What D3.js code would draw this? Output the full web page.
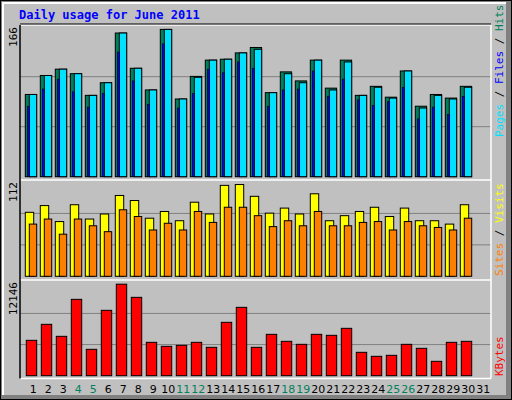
<!DOCTYPE html>
<html><head><meta charset="utf-8">
<script src="https://cdn.jsdelivr.net/npm/d3@7"></script>
<style>body{margin:0;background:#fff}</style>
</head><body>
<svg id="chart" width="512" height="400"></svg>
<script>
const days = d3.range(1, 32);
const weekends = [4, 5, 11, 12, 18, 19, 25, 26];
const hits  = [91,112,119,114,90,104,159,120,96,163,86,111,129,130,137,143,93,116,106,129,98,129,90,100,88,117,78,91,87,100];
const pages = [91,112,119,114,90,104,159,120,96,163,86,110,129,130,137,141,93,114,104,129,96,127,90,99,87,117,76,90,86,99];
const files = [78,97,108,94,77,92,138,106,80,147,76,92,119,115,127,120,78,96,97,117,89,108,85,79,83,99,64,77,69,89];
const visits = [76,84,65,85,68,74,96,90,69,77,66,88,74,108,109,95,75,81,74,98,66,72,77,82,71,81,66,66,62,85];
const sites  = [62,68,50,68,60,53,79,71,55,63,55,77,64,82,82,72,59,66,60,77,60,60,64,65,55,65,60,58,55,69];
const kbytes = [4600,6680,5120,9930,3430,8500,11900,10190,4340,3820,3950,4340,3690,6940,8890,3690,5380,4470,4080,5380,5250,6160,3040,2520,2650,4080,3560,1870,4340,4470];
const maxTicks = { top: 166, mid: 112, bot: 12146 };

const svg = d3.select('#chart');
svg.append('rect').attr('width', 512).attr('height', 400).attr('fill', '#000');
svg.append('rect').attr('x', 1).attr('y', 1).attr('width', 510).attr('height', 398).attr('fill', '#808080');
svg.append('rect').attr('x', 2).attr('y', 2).attr('width', 504).attr('height', 393).attr('fill', '#fff');
svg.append('rect').attr('x', 4).attr('y', 4).attr('width', 502).attr('height', 391).attr('fill', '#c0c0c0');

svg.append('text').attr('x', 19).attr('y', 19)
  .attr('font-family', 'DejaVu Sans Mono, monospace').attr('font-size', 12).attr('font-weight', 'bold')
  .attr('fill', '#0000ff').text('Daily usage for June 2011');

const x = d3.scaleLinear().domain([1, 2]).range([25.3, 40.3]);
const left = 20, right = 491;

const panels = [
  { top: 25, bottom: 178, y: d3.scaleLinear().domain([0, maxTicks.top]).range([176.7, 26.7]), max: maxTicks.top },
  { top: 180, bottom: 279, y: d3.scaleLinear().domain([0, maxTicks.mid]).range([276.3, 182]), max: maxTicks.mid },
  { top: 280, bottom: 378, y: d3.scaleLinear().domain([0, maxTicks.bot]).range([375.7, 282.3]), max: maxTicks.bot }
];

panels.forEach(p => {
  [1 / 3, 2 / 3].forEach(f => {
    svg.append('line').attr('x1', left).attr('x2', right)
      .attr('y1', p.y(p.max * f)).attr('y2', p.y(p.max * f))
      .attr('stroke', '#808080').attr('stroke-width', 1);
  });
  svg.append('text')
    .attr('transform', `translate(${17},${p.top + 2}) rotate(-90)`)
    .attr('text-anchor', 'end')
    .attr('font-family', 'DejaVu Sans Mono, monospace').attr('font-size', 11)
    .attr('fill', '#000').text(p.max);
});

function bars(data, panel, dx, w, fill, sw) {
  svg.append('g').selectAll('rect').data(data).join('rect')
    .attr('x', (d, i) => x(i + 1) + dx)
    .attr('y', d => panel.y(d))
    .attr('width', w)
    .attr('height', d => panel.y(0) - panel.y(d))
    .attr('fill', fill).attr('stroke', '#000').attr('stroke-width', sw);
}
bars(hits, panels[0], 0, 11.3, '#00805c', 1);
bars(pages, panels[0], 4, 7.4, '#00e0ff', 1);
bars(files, panels[0], 2, 2, '#0000ff', 0.6);
bars(visits, panels[1], 0, 8.4, '#ffff00', 1);
bars(sites, panels[1], 4, 7.4, '#ff8000', 1);
bars(kbytes, panels[2], 1, 10.4, '#ff0000', 1);

// panel frames
panels.forEach(p => {
  svg.append('line').attr('x1', left).attr('x2', right).attr('y1', p.top).attr('y2', p.top).attr('stroke', '#fff').attr('stroke-width', 1.5);
});
svg.append('line').attr('x1', left).attr('x2', right).attr('y1', 378.5).attr('y2', 378.5).attr('stroke', '#fff').attr('stroke-width', 1.5);
svg.append('line').attr('x1', right).attr('x2', right).attr('y1', 25).attr('y2', 378.5).attr('stroke', '#fff').attr('stroke-width', 1.5);
svg.append('line').attr('x1', left).attr('x2', left).attr('y1', 25).attr('y2', 378.5).attr('stroke', '#000').attr('stroke-width', 1.5);
svg.append('line').attr('x1', left).attr('x2', right).attr('y1', 24).attr('y2', 24).attr('stroke', '#000').attr('stroke-width', 1);

svg.append('g').selectAll('text').data(days).join('text')
  .attr('x', d => x(d) + 8).attr('y', 393)
  .attr('text-anchor', 'middle')
  .attr('font-family', 'DejaVu Sans, sans-serif').attr('font-size', 11)
  .attr('fill', d => weekends.includes(d) ? '#00805c' : '#000')
  .text(d => d);

function sideLabel(yStart, parts) {
  const t = svg.append('text')
    .attr('transform', `translate(503,${yStart}) rotate(-90)`)
    .attr('font-family', 'DejaVu Sans Mono, monospace').attr('font-size', 11);
  parts.forEach(([s, c]) => t.append('tspan').attr('fill', c).text(s));
}
sideLabel(137, [['Pages', '#00e0ff'], [' / ', '#000'], ['Files', '#0000ff'], [' / ', '#000'], ['Hits', '#00805c']]);
sideLabel(276, [['Sites', '#ff8000'], [' / ', '#000'], ['Visits', '#ffff00']]);
sideLabel(376, [['KBytes', '#ff0000']]);
</script>
</body></html>
